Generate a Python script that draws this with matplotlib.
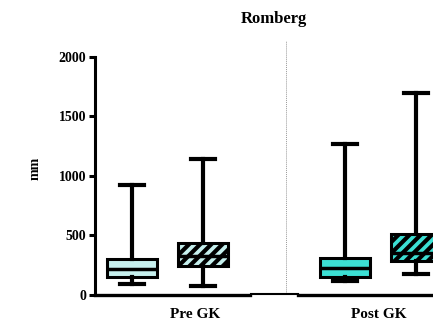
import matplotlib
matplotlib.use("Agg")
from matplotlib import pyplot as plt

# data (mm)
groups = ["Pre GK", "Post GK"]
positions = [1, 2, 4, 5]
whislo = [90, 78, 120, 174]
q1 = [151, 246, 149, 288]
med = [218, 330, 228, 353]
q3 = [302, 434, 308, 513]
whishi = [924, 1145, 1269, 1700]
fills = ["#c6f0ee", "#c6f0ee", "#3ce0d4", "#3ce0d4"]
hatches = [None, "///", None, "///"]
yticks = [0, 500, 1000, 1500, 2000]

plt.rcParams['font.family'] = ['Liberation Serif', 'DejaVu Serif']
plt.rcParams['font.weight'] = 'bold'
plt.rcParams['hatch.linewidth'] = 3.0

fig = plt.figure(figsize=(4.33, 3.24), dpi=100)
ax = fig.add_axes([0.2194, 0.0895, 0.827, 0.784])

stats = []
for i in range(len(positions)):
    stats.append({"whislo": whislo[i], "q1": q1[i], "med": med[i],
                  "q3": q3[i], "whishi": whishi[i], "fliers": []})

bp = ax.bxp(stats, positions=positions, widths=0.70, patch_artist=True,
            showfliers=False, capwidths=0.34,
            boxprops=dict(linewidth=2.2, edgecolor="black"),
            medianprops=dict(color="black", linewidth=2.5),
            whiskerprops=dict(color="black", linewidth=3.0),
            capprops=dict(color="black", linewidth=3.0))
for patch, c, h in zip(bp["boxes"], fills, hatches):
    patch.set_facecolor(c)
    if h:
        patch.set_hatch(h)

ax.set_xlim(0.479, 5.52)
ax.set_ylim(0, 2134)

# dotted separator between the two groups
ax.axvline(3.17, color="#999999", linewidth=0.7, linestyle=(0, (1, 1)))

# x axis with the little break
ax.spines["bottom"].set_visible(False)
ax.axhline(0, xmin=0, xmax=(2.66 - 0.479) / (5.52 - 0.479), color="black",
           linewidth=2.4, clip_on=False)
ax.axhline(0, xmin=(3.34 - 0.479) / (5.52 - 0.479), xmax=1, color="black",
           linewidth=2.4, clip_on=False)
ax.axhline(8, xmin=(2.67 - 0.479) / (5.52 - 0.479),
           xmax=(3.34 - 0.479) / (5.52 - 0.479), color="black",
           linewidth=1.5, clip_on=False)

ax.spines["top"].set_visible(False)
ax.spines["right"].set_visible(False)
ax.spines["left"].set_linewidth(2.2)
ax.spines["left"].set_bounds(0, 2000)

ax.set_yticks(yticks)
ax.set_yticklabels([str(v) for v in yticks], fontsize=10, fontweight="bold")
ax.tick_params(axis="y", length=4.5, width=2.2, pad=2)
ax.set_xticks([1.89, 4.48])
ax.set_xticklabels(groups, fontsize=11, fontweight="bold")
ax.tick_params(axis="x", length=0, pad=9)

ax.set_ylabel("mm", fontsize=10, fontweight="bold", labelpad=12)
ax.set_title("Romberg", fontsize=12, fontweight="bold", pad=13)

fig.savefig("out.png", dpi=100)
